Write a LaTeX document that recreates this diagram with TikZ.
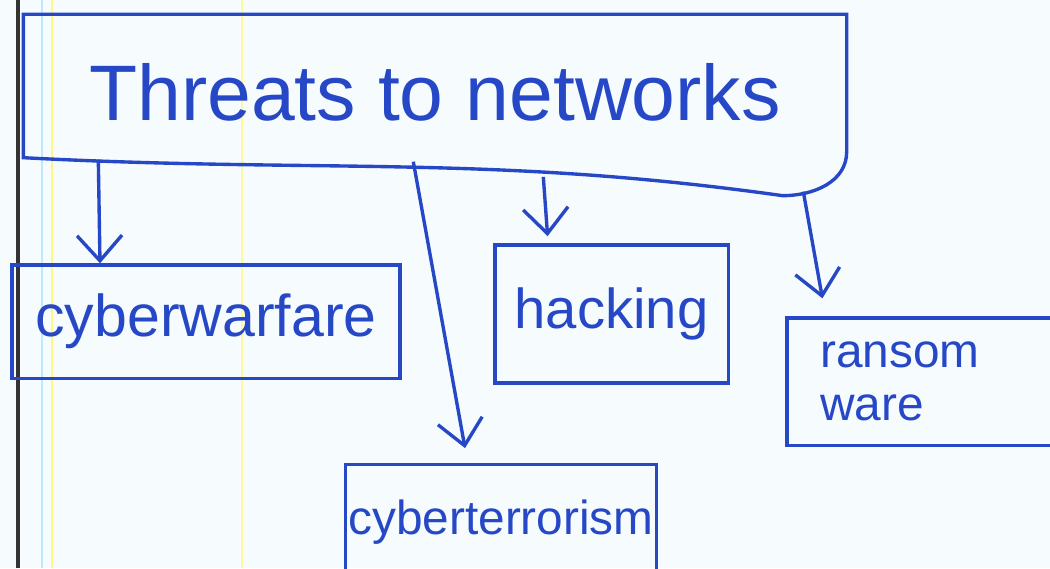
\documentclass[tikz,border=0pt]{standalone}
\usepackage{fontspec}
\setmainfont{Liberation Sans}
\usepackage{tikz}
\usetikzlibrary{arrows.meta, positioning}
\definecolor{ink}{RGB}{38,72,198}
\definecolor{paper}{RGB}{246,251,253}

\begin{document}
\begin{tikzpicture}[
  box/.style={rectangle, draw=ink, line width=2.4pt, text=ink, align=center, inner sep=2pt},
  arr/.style={-{Straight Barb[length=18pt,width=32pt]}, draw=ink, line width=2.4pt},
]
\useasboundingbox (0,0) rectangle (26.25,14.2);
\clip (0,0) rectangle (26.25,14.2);
\fill[paper] (0,0) rectangle (26.25,14.2);
% paper margin lines
\draw[cyan!25, line width=1.5pt] (1.05,0) -- (1.05,14.2);
\draw[yellow!50, line width=2pt] (1.3,0) -- (1.3,14.2);
\draw[yellow!40, line width=2pt] (6.05,0) -- (6.05,14.2);
\draw[black!80, line width=3pt] (0.45,0) -- (0.45,14.2);

% title box
\node[box, draw=none, minimum width=20.5cm, minimum height=3.8cm, font=\fontsize{56}{64}\selectfont] (threats) at (10.875,11.9) {Threats to networks};
\draw[ink, line width=2.4pt] (threats.north west) -- (threats.north east)
  -- ([yshift=0.45cm]threats.south east) to[out=-90,in=0] ([xshift=-1.6cm,yshift=-0.65cm]threats.south east)
  to[out=172,in=-3] ([yshift=0.3cm]threats.south west) -- cycle;

% the four threats
\node[box, minimum width=9.7cm, minimum height=2.83cm, font=\fontsize{42}{48}\selectfont] (warfare) at (5.15,6.16) {cyberwarfare};
\node[box, minimum width=5.83cm, minimum height=3.45cm, font=\fontsize{40}{46}\selectfont] (hacking) at (15.29,6.35) {hacking};
\node[box, minimum width=7.08cm, minimum height=3.18cm, text width=5.4cm, align=left, font=\fontsize{34}{38}\selectfont] (ransom) at (23.21,4.66) {ransom\\ware};
\node[box, minimum width=7.7cm, minimum height=2.88cm, font=\fontsize{34}{40}\selectfont] (terror) at (12.525,1.14) {cyberterrorism};

% arrows
\draw[arr] ([xshift=1.875cm,yshift=0.25cm]threats.south west) -- ([xshift=-2.65cm]warfare.north);
\draw[arr] ([xshift=9.75cm,yshift=0.2cm]threats.south west) -- ([xshift=-0.9cm,yshift=0.375cm]terror.north);
\draw[arr] ([xshift=13cm,yshift=-0.18cm]threats.south west) -- ([xshift=-1.6cm,yshift=0.18cm]hacking.north);
\draw[arr] ([xshift=19.5cm,yshift=-0.55cm]threats.south west) -- ([xshift=-2.65cm,yshift=0.45cm]ransom.north);
\end{tikzpicture}
\end{document}
